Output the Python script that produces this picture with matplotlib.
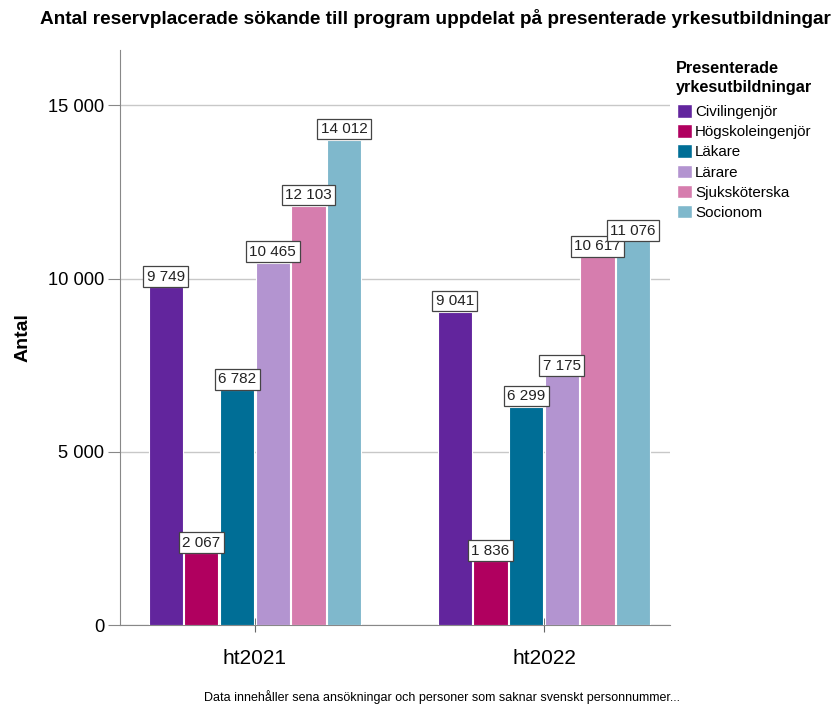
import matplotlib
matplotlib.use("Agg")
import matplotlib.pyplot as plt
import numpy as np
from matplotlib.patches import Patch
from matplotlib.ticker import FuncFormatter

plt.rcParams['font.family'] = ['Liberation Sans', 'DejaVu Sans']

groups = ["ht2021", "ht2022"]
categories = ["Civilingenjör", "Högskoleingenjör", "Läkare", "Lärare", "Sjuksköterska", "Socionom"]
values = {
    "Civilingenjör": [9749, 9041],
    "Högskoleingenjör": [2067, 1836],
    "Läkare": [6782, 6299],
    "Lärare": [10465, 7175],
    "Sjuksköterska": [12103, 10617],
    "Socionom": [14012, 11076],
}
colors = ["#62259D", "#B0005F", "#006E96", "#B394D0", "#D67DAE", "#7FB8CC"]

fig = plt.figure(figsize=(8.4, 7.05), dpi=100)
ax = fig.add_axes([120/840, 80/705, 550/840, 655/705 - 80/705])

def fmt(v):
    return f"{int(v):,}".replace(",", " ")

x = np.arange(len(groups))
step = 0.1235
width = 0.118
for i, cat in enumerate(categories):
    pos = x + (i - 2.5) * step
    ax.bar(pos, values[cat], width=width, color=colors[i], edgecolor='white', linewidth=0.8, zorder=3)
    for p, v in zip(pos, values[cat]):
        ax.annotate(fmt(v), (p, v), xytext=(0, 2.7), textcoords='offset points',
                    ha='center', va='bottom', fontsize=11, color='#222222', zorder=5,
                    bbox=dict(boxstyle='square,pad=0.22', fc='white', ec='#444444', lw=0.9))

ax.set_xlim(-0.467, 1.436)
ax.set_ylim(0, 16600)
ax.set_yticks([0, 5000, 10000, 15000])
ax.yaxis.set_major_formatter(FuncFormatter(lambda v, p: fmt(v)))
ax.set_xticks(x)
ax.set_xticklabels(groups)
ax.tick_params(axis='y', labelsize=13.2, length=8.5, color='#888888', pad=3)
ax.tick_params(axis='x', labelsize=15, length=10, color='#666666', pad=12, direction='inout')
ax.grid(axis='y', color='#C8C8C8', linewidth=1, zorder=0)
ax.set_axisbelow(True)
for s in ['top', 'right']:
    ax.spines[s].set_visible(False)
for s in ['left', 'bottom']:
    ax.spines[s].set_color('#888888')
ax.set_ylabel("Antal", fontsize=14, fontweight='bold', labelpad=12)

fig.text(435/840, 1 - 18/705, "Antal reservplacerade sökande till program uppdelat på presenterade yrkesutbildningar",
         ha='center', va='center', fontsize=13.7, fontweight='bold')
fig.text(442/840, 1 - 697/705, "Data innehåller sena ansökningar och personer som saknar svenskt personnummer...",
         ha='center', va='center', fontsize=9)

handles = [Patch(facecolor=c, edgecolor='white', label=l) for c, l in zip(colors, categories)]
leg = fig.legend(handles=handles, loc='upper left', bbox_to_anchor=(676/840, 1 - 61/705),
                 title="Presenterade\nyrkesutbildningar", frameon=False, fontsize=10.9,
                 title_fontproperties={'weight': 'bold', 'size': 11.7},
                 handlelength=1.0, handleheight=1.0, handletextpad=0.2, labelspacing=0.34,
                 borderaxespad=0, borderpad=0)
leg._legend_box.align = "center"
leg._legend_box.sep = 6.5
leg.get_title().set_linespacing(1.35)

fig.savefig("out.png", dpi=100)
